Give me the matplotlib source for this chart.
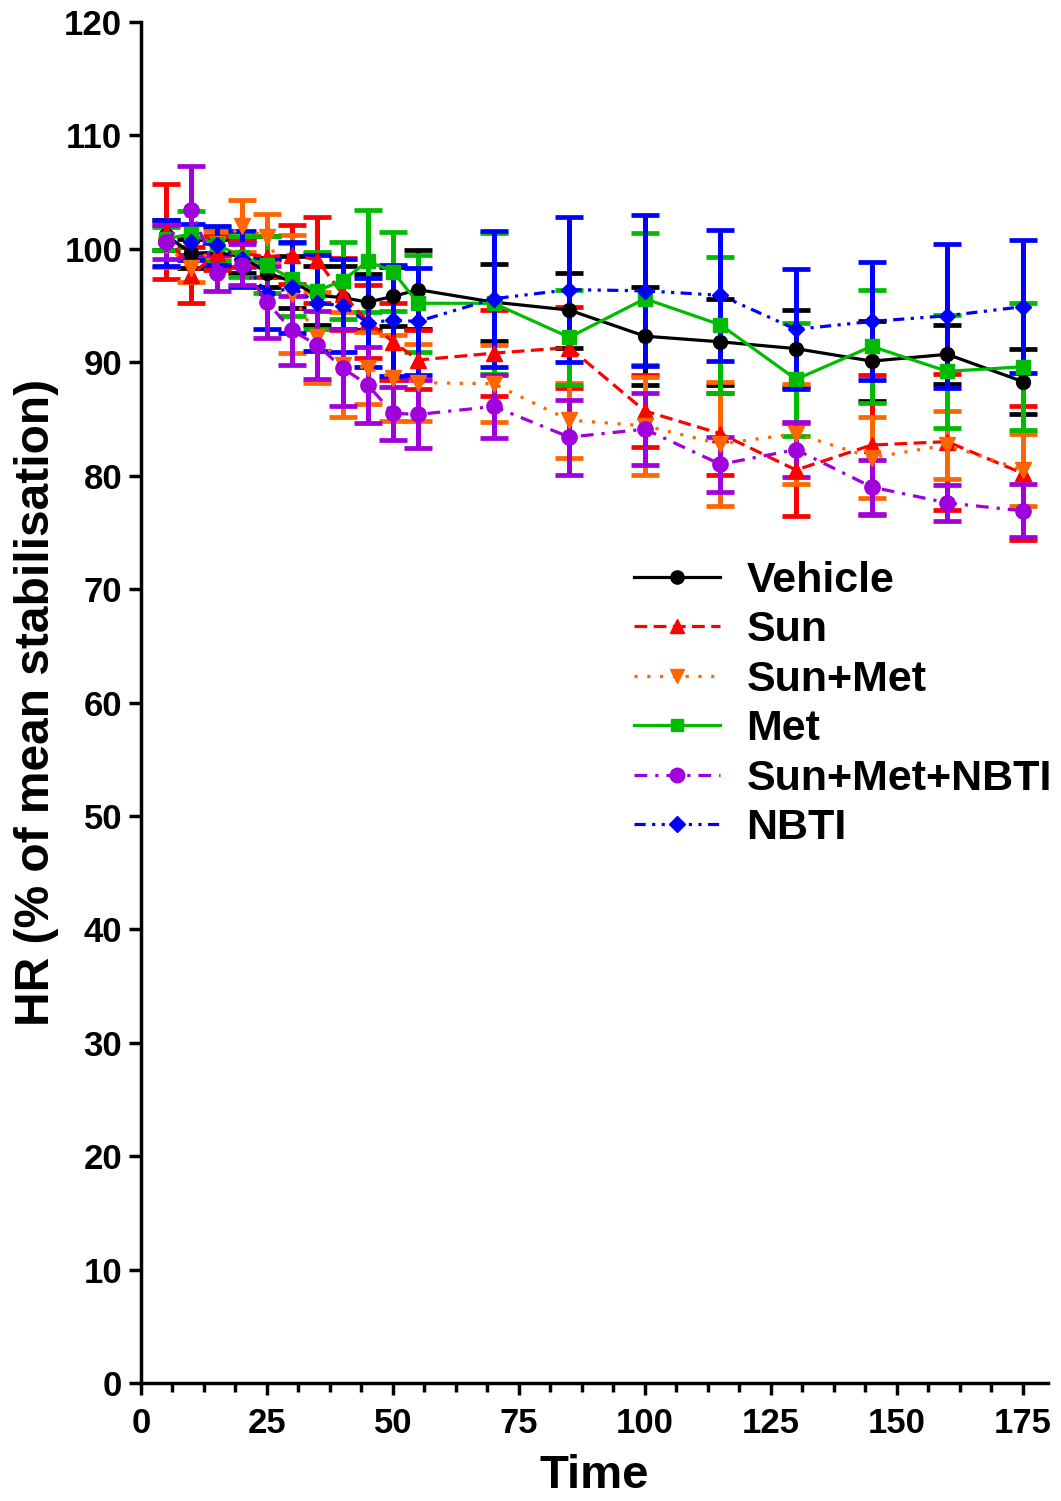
import matplotlib
matplotlib.use('Agg')
import matplotlib.pyplot as plt
from matplotlib.ticker import MultipleLocator
import numpy as np

plt.rcParams['font.family'] = ['Liberation Sans', 'DejaVu Sans']
plt.rcParams['font.weight'] = 'bold'

czas = [5, 10, 15, 20, 25, 30, 35, 40, 45, 50, 55, 70, 85, 100, 115, 130, 145, 160, 175]

vehicle = [101.2, 99.6, 99.7, 99.3, 97.9, 97.1, 95.9, 95.7, 95.3, 95.8, 96.4, 95.3, 94.6, 92.3, 91.8, 91.2, 90.1, 90.7, 88.3]
vehicle_sem = [1.3, 1.3, 1.2, 1.4, 1.3, 2.3, 2.6, 2.8, 2.5, 2.6, 3.5, 3.4, 3.3, 4.3, 3.8, 3.4, 3.5, 2.6, 2.9]

sun = [101.5, 97.7, 99.6, 99.6, 99.3, 99.5, 99.0, 96.0, 93.6, 91.8, 90.2, 90.8, 91.3, 85.7, 83.7, 80.5, 82.7, 83.0, 80.2]
sun_sem = [4.2, 2.5, 1.5, 1.2, 1.8, 2.6, 3.8, 3.2, 3.2, 3.4, 2.6, 3.8, 3.6, 3.2, 3.6, 4.1, 6.2, 6.0, 5.9]

sun_met = [100.3, 98.3, 100.4, 102.0, 101.0, 96.0, 92.2, 89.8, 89.5, 88.6, 88.2, 88.1, 84.9, 84.4, 82.8, 83.7, 81.6, 82.7, 80.5]
sun_met_sem = [1.9, 1.2, 1.2, 2.3, 2.1, 5.2, 4.0, 4.6, 3.2, 3.8, 3.4, 3.4, 3.3, 4.3, 5.5, 4.4, 3.6, 3.0, 3.2]

met = [100.9, 101.3, 100.4, 99.3, 98.6, 97.3, 96.3, 97.2, 98.9, 98.0, 95.2, 95.2, 92.2, 95.6, 93.3, 88.5, 91.4, 89.2, 89.6]
met_sem = [1.0, 2.0, 1.5, 1.8, 2.5, 3.2, 3.4, 3.4, 4.5, 3.5, 4.3, 6.2, 4.2, 5.8, 6.0, 5.0, 5.0, 5.0, 5.6]

sun_met_nbti = [100.6, 103.4, 97.9, 98.6, 95.3, 92.8, 91.5, 89.5, 88.0, 85.5, 85.4, 86.1, 83.4, 84.1, 81.0, 82.3, 79.0, 77.6, 76.9]
sun_met_nbti_sem = [1.5, 3.9, 1.6, 1.8, 3.2, 3.0, 3.0, 3.4, 3.35, 2.35, 3.0, 2.75, 3.3, 3.15, 2.4, 2.45, 2.35, 1.6, 2.35]

nbti = [100.5, 100.6, 100.3, 99.1, 96.0, 96.6, 95.2, 95.0, 93.5, 93.7, 93.6, 95.6, 96.4, 96.3, 95.9, 92.9, 93.6, 94.1, 94.9]
nbti_sem = [2.0, 1.6, 1.7, 2.5, 3.1, 4.0, 4.25, 4.1, 3.9, 4.9, 4.75, 6.0, 6.4, 6.65, 5.8, 5.3, 5.2, 6.35, 5.85]

grupy = ['Vehicle', 'Sun', 'Sun+Met', 'Met', 'Sun+Met+NBTI', 'NBTI']

serie = {
    'Vehicle': (vehicle, vehicle_sem, '#000000', '-', 'o', 10),
    'Sun': (sun, sun_sem, '#FF0000', (0, (4, 2)), '^', 11),
    'Sun+Met': (sun_met, sun_met_sem, '#FF6600', (0, (1, 3)), 'v', 11),
    'Met': (met, met_sem, '#00BB00', '-', 's', 9.5),
    'NBTI': (nbti, nbti_sem, '#0000FF', (0, (3.5, 2, 1, 2, 1, 2)), 'D', 8.5),
    'Sun+Met+NBTI': (sun_met_nbti, sun_met_nbti_sem, '#A000DC', (0, (4, 2.5, 1, 2.5)), 'o', 11),
}

fig = plt.figure(figsize=(10.61, 15.01), dpi=100)
ax = fig.add_axes([141 / 1061, 1 - 1383 / 1501, (1048 - 141) / 1061, (1383 - 22) / 1501])

uchwyty = {}
for nazwa in ['Vehicle', 'Sun', 'Sun+Met', 'Met', 'NBTI', 'Sun+Met+NBTI']:
    y, e, kolor, styl, marker, ms = serie[nazwa]
    cont = ax.errorbar(czas, y, yerr=e, color=kolor, linestyle=styl, linewidth=2.3,
                       marker=marker, markersize=ms, elinewidth=3.6, capsize=10,
                       capthick=3.4, label=nazwa, clip_on=False)
    uchwyty[nazwa] = cont[0]

ax.set_xlim(0, 180)
ax.set_ylim(0, 120)
ax.xaxis.set_major_locator(MultipleLocator(25))
ax.xaxis.set_minor_locator(MultipleLocator(6.25))
ax.yaxis.set_major_locator(MultipleLocator(10))

for s in ['top', 'right']:
    ax.spines[s].set_visible(False)
for s in ['left', 'bottom']:
    ax.spines[s].set_linewidth(2.5)

ax.tick_params(axis='both', which='major', length=8.5, width=2.5, labelsize=25, pad=5)
ax.tick_params(axis='x', which='major', pad=9)
ax.tick_params(axis='x', which='minor', length=6.5, width=2.5)
for lab in ax.get_xticklabels() + ax.get_yticklabels():
    lab.set_fontweight('bold')

ax.set_xlabel('Time', fontsize=34, fontweight='bold', labelpad=10)
ax.set_ylabel('HR (% of mean stabilisation)', fontsize=34.5, fontweight='bold', labelpad=4)

leg = ax.legend([uchwyty[g] for g in grupy], grupy, loc='upper left',
                bbox_to_anchor=(634 / 1061, 1 - 561 / 1501), bbox_transform=fig.transFigure,
                frameon=False, fontsize=31, handlelength=2.0, handletextpad=0.61,
                labelspacing=0.22, borderpad=0, borderaxespad=0, markerscale=0.95)
for t in leg.get_texts():
    t.set_fontweight('bold')

plt.savefig('out.png', dpi=100)
